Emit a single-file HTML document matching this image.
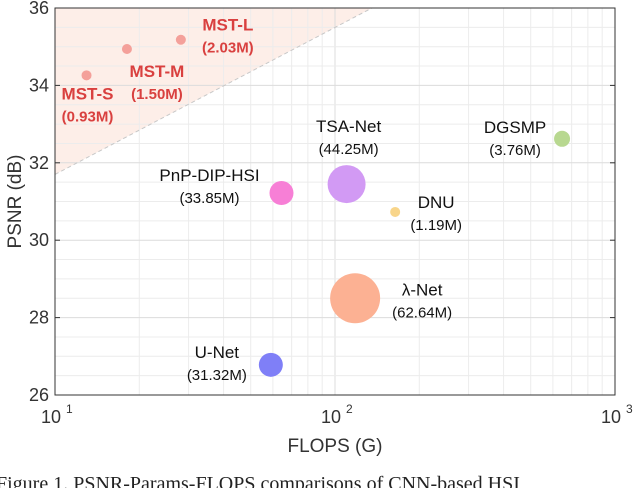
<!DOCTYPE html>
<html><head><meta charset="utf-8"><style>
body{margin:0;background:#fff;width:640px;height:488px;overflow:hidden}
svg{display:block}
</style></head><body>
<svg id="chart" width="640" height="488" xmlns="http://www.w3.org/2000/svg" font-family="Liberation Sans, sans-serif"></svg>
<script>
const names=["MST-S","MST-M","MST-L","PnP-DIP-HSI","TSA-Net","DNU","DGSMP","λ-Net","U-Net"];
const params=["(0.93M)","(1.50M)","(2.03M)","(33.85M)","(44.25M)","(1.19M)","(3.76M)","(62.64M)","(31.32M)"];
const flops=[12.96,18.07,28.15,64.4,110,164,647,118,59];
const psnr=[34.26,34.94,35.18,31.22,31.45,30.73,32.62,28.5,26.78];
const radii=[5,5,5,12,19,5,8,25,12];
const colors=["#f4a09a","#f4a09a","#f4a09a","#f77fd6","#d29af4","#f8d58a","#b8d890","#fcb193","#7f7ff7"];
const yTicks=[26,28,30,32,34,36];
const xTicks=[1,2,3];
const L=55,R=615,T=8,B=395;
const X=v=>L+(Math.log10(v)-1)/2*(R-L);
const Y=v=>B-(v-26)/10*(B-T);
const svg=document.getElementById('chart');
const NS="http://www.w3.org/2000/svg";
function mk(tag,a,p){const e=document.createElementNS(NS,tag);for(const k in a)e.setAttribute(k,a[k]);(p||svg).appendChild(e);return e;}
let sh=mk('polygon',{points:`${L},${Y(31.7)} ${L},${T} 372,${T}`,fill:'#fdeee8'});


for(let d=1;d<=2;d++)for(let m=1;m<=9;m++){const v=10**d*m;const x=X(v);
 let g=mk('line',{x1:x,x2:x,y1:T,y2:B,stroke:m==1?'#dcdcdc':'#ececec','stroke-width':1});
 }
for(let v=26;v<=36;v+=0.5){const y=Y(v);
 let g=mk('line',{x1:L,x2:R,y1:y,y2:y,stroke:(v%2==0)?'#dcdcdc':'#ececec','stroke-width':1});
 }
let dl=mk('line',{x1:L,y1:Y(31.7),x2:372,y2:T,stroke:'#c8c8c8','stroke-dasharray':'4,3','stroke-width':1});

let bx=mk('rect',{x:L,y:T,width:R-L,height:B-T,fill:'none',stroke:'#333','stroke-width':1});

yTicks.forEach(v=>{const y=Y(v);
 mk('line',{x1:L,x2:L+5,y1:y,y2:y,stroke:'#333'});mk('line',{x1:R-5,x2:R,y1:y,y2:y,stroke:'#333'});
 let t=mk('text',{x:L-6,y:y+6,'text-anchor':'end','font-size':18,fill:'#333'});t.textContent=v;
 });
xTicks.forEach(p=>{const x=X(10**p);
 let t=mk('text',{x:x-4,y:B+28,'text-anchor':'middle','font-size':18,fill:'#333'});t.textContent='10';
 
 let s=mk('text',{x:x+11,y:B+18,'font-size':12,fill:'#333'});s.textContent=p;
 });
let xt=mk('text',{x:335,y:B+57,'text-anchor':'middle','font-size':19,fill:'#333'});xt.textContent='FLOPS (G)';

let yt=mk('text',{x:0,y:0,'text-anchor':'middle','font-size':19,fill:'#333',transform:`translate(21,${(T+B)/2}) rotate(-90)`});yt.textContent='PSNR (dB)';

for(let i=0;i<names.length;i++){
 let c=mk('circle',{cx:X(flops[i]),cy:Y(psnr[i]),r:radii[i],fill:colors[i]});
 
 }
const lab=[[1,24],[30,28],[47,-9],[-72,-12],[2,-52],[41,-4],[-47,-6],[67,-3],[-54,-7]];
for(let i=0;i<names.length;i++){
 const x=X(flops[i])+lab[i][0],y=Y(psnr[i])+lab[i][1];const mst=i<3;
 const g=mk('g',{});
 let a=mk('text',{x:x,y:y,'text-anchor':'middle','font-size':17,'font-weight':mst?'bold':'normal',fill:mst?'#d9403f':'#111'},g);a.textContent=names[i];
 let b=mk('text',{x:x,y:y+22,'text-anchor':'middle','font-size':15,'font-weight':mst?'bold':'normal',fill:mst?'#d9403f':'#111'},g);b.textContent=params[i];
}
let cap=mk('text',{x:-4,y:490,'font-size':20,'font-family':'Liberation Serif, serif',fill:'#222'});cap.textContent='Figure 1. PSNR-Params-FLOPS comparisons of CNN-based HSI';

</script>
</body></html>
